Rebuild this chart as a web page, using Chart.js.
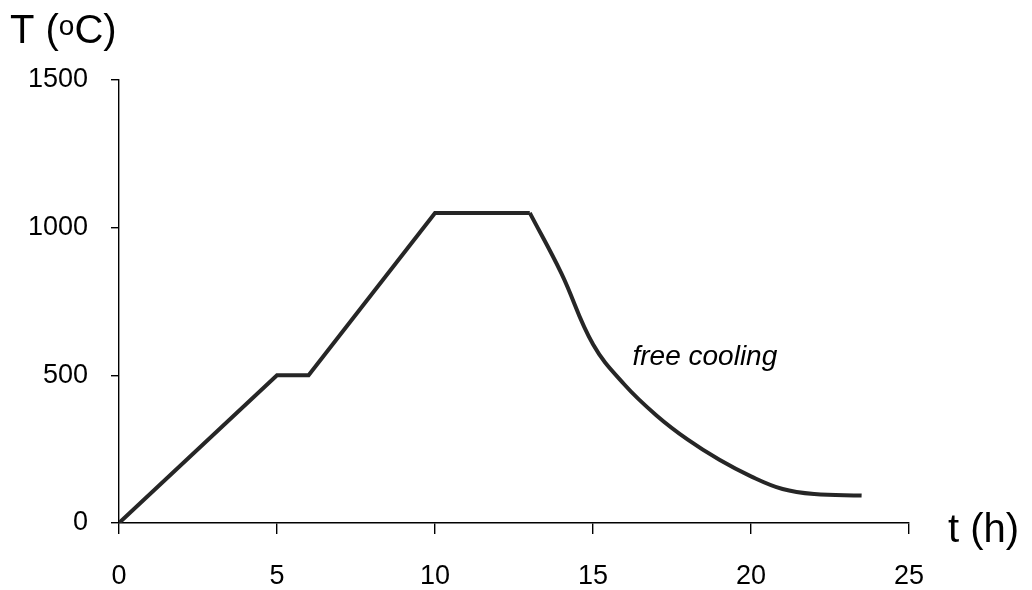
<!DOCTYPE html>
<html>
<head>
<meta charset="utf-8">
<script src="https://cdn.jsdelivr.net/npm/chart.js@4"></script>
<style>
  html, body { margin: 0; padding: 0; background: #fff; }
</style>
</head>
<body>
<canvas id="chart" width="1032" height="590"></canvas>
<script>
// heating ramps + holds
const heatTime = [0, 5, 6, 10, 13];
const heatTemp = [0, 500, 500, 1050, 1050];
// free cooling
const coolTime = [13, 14, 15, 16, 17, 18, 19, 20, 21, 22, 23.5];
const coolTemp = [1050, 845, 605, 468, 365, 282, 214, 158, 115, 98, 93];

const xTicks = [0, 5, 10, 15, 20, 25];
const yTicks = [0, 500, 1000, 1500];

const FONT = '"Liberation Sans", Arial, sans-serif';

const toPoints = (xs, ys) => xs.map((x, i) => ({ x: x, y: ys[i] }));

const extraText = {
  id: 'extraText',
  afterDraw(chart) {
    const ctx = chart.ctx;
    ctx.save();
    ctx.fillStyle = '#000';
    ctx.textBaseline = 'alphabetic';
    ctx.textAlign = 'left';

    // y title: T (oC) with raised o
    let x = 10;
    const base = 43;
    ctx.font = '40px ' + FONT;
    ctx.fillText('T (', x, base);
    x += ctx.measureText('T (').width;
    ctx.font = '28px ' + FONT;
    ctx.fillText('o', x, base - 8);
    x += ctx.measureText('o').width;
    ctx.font = '40px ' + FONT;
    ctx.fillText('C)', x, base);

    // x title
    ctx.fillText('t (h)', 948, 542);

    // annotation
    const xs = chart.scales.x, ys = chart.scales.y;
    ctx.font = 'italic 28px ' + FONT;
    ctx.fillText('free cooling', xs.getPixelForValue(16.25), ys.getPixelForValue(535));
    ctx.restore();
  }
};

new Chart(document.getElementById('chart'), {
  type: 'line',
  data: {
    datasets: [
      {
        data: toPoints(heatTime, heatTemp),
        borderColor: '#262626',
        borderWidth: 4,
        pointRadius: 0,
        tension: 0,
        borderJoinStyle: 'miter'
      },
      {
        data: toPoints(coolTime, coolTemp),
        borderColor: '#262626',
        borderWidth: 4,
        pointRadius: 0,
        tension: 0.4,
        borderJoinStyle: 'miter'
      }
    ]
  },
  options: {
    responsive: false,
    animation: false,
    layout: { padding: { left: 0, right: 123, top: 80, bottom: 0 } },
    plugins: {
      legend: { display: false },
      tooltip: { enabled: false }
    },
    scales: {
      x: {
        type: 'linear',
        min: 0,
        max: 25,
        afterFit(scale) { scale.height = 67; },
        afterBuildTicks(scale) { scale.ticks = xTicks.map(v => ({ value: v })); },
        border: { color: '#000', width: 1.4 },
        grid: { drawOnChartArea: false, color: '#000', lineWidth: 1.4, tickLength: 11 },
        ticks: { color: '#000', padding: 26, maxRotation: 0, font: { family: FONT, size: 27 },
                 callback: v => String(v) }
      },
      y: {
        type: 'linear',
        min: 0,
        max: 1500,
        afterFit(scale) { scale.width = 119; },
        afterBuildTicks(scale) { scale.ticks = yTicks.map(v => ({ value: v })); },
        border: { color: '#000', width: 1.4 },
        grid: { drawOnChartArea: false, color: '#000', lineWidth: 1.4, tickLength: 8 },
        ticks: { color: '#000', padding: 23, font: { family: FONT, size: 27 },
                 callback: v => String(v) }
      }
    }
  },
  plugins: [extraText]
});
</script>
</body>
</html>
